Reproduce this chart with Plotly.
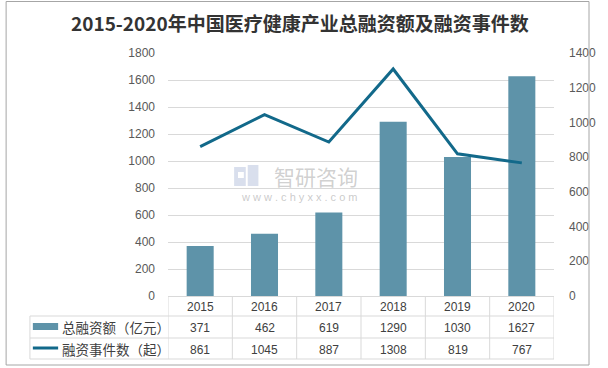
import plotly.graph_objects as go

years = ["2015", "2016", "2017", "2018", "2019", "2020"]
financing_amount = [371, 462, 619, 1290, 1030, 1627]   # 总融资额（亿元）
financing_events = [861, 1045, 887, 1308, 819, 767]    # 融资事件数（起）
series_names = ["总融资额（亿元）", "融资事件数（起）"]
title_text = "2015-2020年中国医疗健康产业总融资额及融资事件数"

W, H = 608, 368
L, R, T, B = 168, 43, 53, 72
pw = W - L - R
ph = H - T - B

def px_x(x):  # pixel x -> paper
    return (x - L) / pw

def px_y(y):  # pixel y -> paper
    return (H - B - y) / ph

BAR_C = "#5E93A9"
LINE_C = "#12698A"
GRID_C = "#D9D9D9"
TXT_C = "#595959"
FONT = "Liberation Sans, Arial, sans-serif"
CJK = "Noto Sans CJK SC"

fig = go.Figure()
fig.add_trace(go.Bar(x=years, y=financing_amount, name=series_names[0],
                     marker=dict(color=BAR_C, line=dict(width=0)), width=0.42,
                     yaxis="y"))
fig.add_trace(go.Scatter(x=years, y=financing_events, name=series_names[1],
                         mode="lines", line=dict(color=LINE_C, width=3),
                         yaxis="y2"))

shapes = []
annotations = []

# table horizontal lines
for yp in [316, 338, 359]:
    shapes.append(dict(type="line", xref="paper", yref="paper",
                       x0=px_x(26), x1=1, y0=px_y(yp), y1=px_y(yp),
                       line=dict(color=GRID_C, width=1)))
# table vertical lines at category boundaries
for k in range(len(years) + 1):
    shapes.append(dict(type="line", xref="x", yref="paper",
                       x0=k - 0.5, x1=k - 0.5, y0=0, y1=px_y(359),
                       line=dict(color=GRID_C, width=1)))
# legend column left edge
shapes.append(dict(type="line", xref="paper", yref="paper",
                   x0=px_x(26), x1=px_x(26), y0=px_y(316), y1=px_y(359),
                   line=dict(color=GRID_C, width=1)))
# legend swatches
shapes.append(dict(type="rect", xref="paper", yref="paper",
                   x0=px_x(29), x1=px_x(55), y0=px_y(323), y1=px_y(330),
                   fillcolor=BAR_C, line=dict(width=0)))
shapes.append(dict(type="line", xref="paper", yref="paper",
                   x0=px_x(29), x1=px_x(55), y0=px_y(348), y1=px_y(348),
                   line=dict(color=LINE_C, width=3)))
# outer border
shapes.append(dict(type="rect", xref="paper", yref="paper",
                   x0=px_x(1.5), x1=px_x(601), y0=px_y(1.5), y1=px_y(365),
                   line=dict(color="#A6A6A6", width=1), fillcolor="rgba(0,0,0,0)"))
# watermark logo (light glyph blocks)
shapes.append(dict(type="rect", xref="paper", yref="paper",
                   x0=px_x(236), x1=px_x(248), y0=px_y(167), y1=px_y(186),
                   fillcolor="rgba(170,185,215,0.45)", line=dict(width=0)))
shapes.append(dict(type="rect", xref="paper", yref="paper",
                   x0=px_x(250), x1=px_x(261), y0=px_y(165), y1=px_y(186),
                   fillcolor="rgba(170,185,215,0.45)", line=dict(width=0)))
shapes.append(dict(type="rect", xref="paper", yref="paper",
                   x0=px_x(240), x1=px_x(246), y0=px_y(172), y1=px_y(178),
                   fillcolor="white", line=dict(width=0)))

def ann(x, y, text, font, xref="paper", xanchor="center"):
    annotations.append(dict(x=x, y=y, xref=xref, yref="paper", text=text,
                            xanchor=xanchor, yanchor="middle", showarrow=False, font=font))

# table texts
tfont = dict(family=FONT, size=12, color="#404040")
for i, yr in enumerate(years):
    ann(i, px_y(307), yr, tfont, xref="x")
    ann(i, px_y(327.5), str(financing_amount[i]), tfont, xref="x")
    ann(i, px_y(349.5), str(financing_events[i]), tfont, xref="x")
for nm, yp in zip(series_names, [327, 349]):
    ann(px_x(57), px_y(yp), nm, dict(family=CJK, size=13.5, color="#404040"), xanchor="left")

# title
ann(px_x(304), px_y(22), "<b>" + title_text + "</b>", dict(family=CJK, size=19, color="#333333"))

# watermark text
ann(px_x(320), px_y(176), "智研咨询", dict(family=CJK, size=21, color="rgba(150,150,150,0.45)"))
ann(px_x(303), px_y(197), "w w w . c h y x x . c o m", dict(family=FONT, size=11, color="rgba(150,150,150,0.5)"))

fig.update_layout(
    width=W, height=H,
    margin=dict(l=L, r=R, t=T, b=B, pad=0),
    paper_bgcolor="white", plot_bgcolor="white",
    showlegend=False,
    xaxis=dict(type="category", showticklabels=False, showgrid=False,
               showline=True, linecolor=GRID_C, linewidth=1, ticks="",
               range=[-0.5, 5.5]),
    yaxis=dict(range=[0, 1800], dtick=200, showgrid=True, gridcolor=GRID_C, gridwidth=1,
               zeroline=False, showline=False, ticks="", ticklabelstandoff=12,
               tickfont=dict(family=FONT, size=12, color=TXT_C)),
    yaxis2=dict(range=[0, 1400], dtick=200, overlaying="y", side="right",
                showgrid=False, zeroline=False, showline=False, ticks="",
                ticklabelstandoff=14,
                tickfont=dict(family=FONT, size=12, color=TXT_C)),
    shapes=shapes,
    annotations=annotations,
)

fig.write_html("out.html", config={"displayModeBar": False},
               post_script="document.body.style.margin='0';")
